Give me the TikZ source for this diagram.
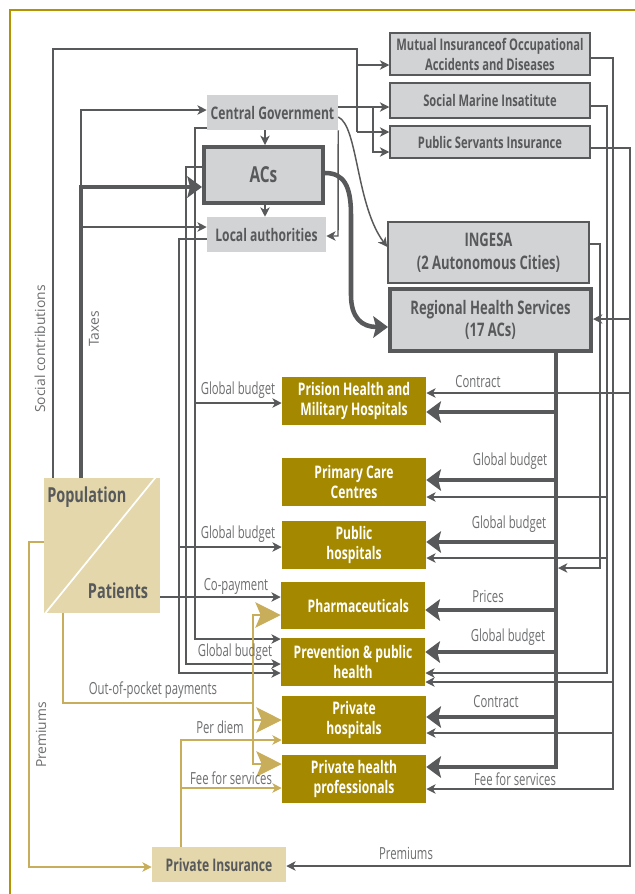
\documentclass[tikz,border=0pt]{standalone}
\usepackage{fontspec}
\setmainfont{Open Sans}
\newfontfamily\cfb[FakeStretch=0.70]{Open Sans}
\newfontfamily\cfl[FakeStretch=0.68]{Open Sans}
\usetikzlibrary{arrows.meta,calc}
\definecolor{dg}{HTML}{58595B}
\definecolor{boxg}{HTML}{D1D3D4}
\definecolor{goldb}{HTML}{A38800}
\definecolor{tanb}{HTML}{E3D7AB}
\definecolor{gl}{HTML}{C8AD5A}
\definecolor{framec}{HTML}{B39300}
\definecolor{lbl}{HTML}{6D6E70}
\tikzset{
  wh/.style 2 args={minimum width=#1*0.75pt, minimum height=#2*0.75pt},
  bf/.style 2 args={font=\cfb\bfseries\fontsize{#1}{#2}\selectfont},
  gbox/.style={draw=dg, line width=1.1pt, fill=boxg, text=dg, align=center, inner sep=0pt, bf={12}{15}},
  tbox/.style={gbox, line width=3pt},
  lbox/.style={fill=boxg, text=dg, align=center, inner sep=0pt, bf={13}{15}},
  goldbox/.style={fill=goldb, text=white, align=center, inner sep=0pt, bf={13}{15.5}, wh={144}{48}},
  tanbox/.style={fill=tanb, text=dg, align=center, inner sep=0pt, bf={13}{15}},
  ln/.style={draw=dg, line width=1.1pt},
  thk/.style={draw=dg, line width=3.4pt},
  gln/.style={draw=gl, line width=1.6pt},
  tarr/.style={-{Stealth[length=7pt,width=7pt,inset=2pt]}},
  karr/.style={-{Stealth[length=11pt,width=16pt,inset=2pt]}},
  garr/.style={-{Stealth[length=19pt,width=19pt,inset=4pt]}},
  lab/.style={font=\cfl\fontsize{12.5}{13}\selectfont, text=lbl, inner sep=0pt},
  rlab/.style={font=\fontsize{10.4}{12}\selectfont, text=lbl, inner sep=0pt, rotate=90},
}
\begin{document}
\begin{tikzpicture}[x=0.75pt,y=-0.75pt]
\useasboundingbox (0,0) rectangle (635,894);
\fill[white] (0,0) rectangle (635,894);
\draw[framec, line width=1.8pt] (10,894) -- (10,10) -- (635,10);

% ---------- nodes ----------
\node[gbox, wh={200}{42}] (mutual) at (490,54) {Mutual Insuranceof Occupational\\Accidents and Diseases};
\node[gbox, wh={200}{35}] (smi) at (490,100.5) {Social Marine Insatitute};
\node[gbox, wh={200}{32}] (psi) at (490,142) {Public Servants Insurance};
\node[lbox, wh={131}{35}] (cg) at (272.5,112.5) {Central Government};
\node[tbox, wh={119}{56}, bf={16.5}{18}] (acs) at (263.5,175) {ACs};
\node[lbox, wh={119}{35}] (la) at (266.5,234.5) {Local authorities};
\node[gbox, wh={201}{61}, bf={14}{17}] (ingesa) at (488.5,252.5) {INGESA\\(2 Autonomous Cities)};
\node[tbox, wh={201}{62}, bf={14}{17}] (rhs) at (490.5,320) {Regional Health Services\\(17 ACs)};

\node[goldbox] (prision) at (354,401) {Prision Health and\\Military Hospitals};
\node[goldbox] (pcc) at (354,482) {Primary Care\\Centres};
\node[goldbox] (pubh) at (354,545) {Public\\hospitals};
\node[goldbox, wh={144}{47}] (pharm) at (353,605.5) {\hspace*{8pt}Pharmaceuticals};
\node[goldbox] (prev) at (353,662) {Prevention \& public\\health};
\node[goldbox] (ph) at (354,720) {Private\\hospitals};
\node[goldbox] (php) at (354,779) {Private health\\professionals};

\node[tanbox, wh={134}{35}] (pi) at (219,864.5) {Private Insurance};
\node[fill=tanb, wh={116}{135}, inner sep=0pt] (pop) at (102,545.5) {};
\draw[white, line width=1.3pt] ($(pop.north east)+(-5,0)$) -- ($(pop.south west)+(1.5,0)$);
\node[text=dg, bf={15.5}{16}, anchor=west, inner sep=0pt] (poplbl) at (47,497) {Population};
\node[text=dg, bf={15.5}{16}, inner sep=0pt] (patlbl) at (118,591) {Patients};

% ---------- top connectors ----------
% social contributions
\draw[ln] (pop.north -| 53,0) -- (53,49) -- (357,49) -- (357,132);
\coordinate (sc1) at (357,65);
\coordinate (sc2) at (357,132);
\draw[ln, tarr] (sc1) -- (mutual.west |- sc1);
\draw[ln, tarr] (sc2) -- (psi.west |- sc2);
% central government outputs
\draw[ln, tarr] (cg.east |- 0,107) -- (smi.west |- 0,107);
\coordinate (cgb) at (373,107);
\draw[ln, tarr] (cgb) -- (373,152) -- (psi.west |- 0,152);
\draw[ln, tarr] (cg.east |- 0,117) .. controls (358,126) and (356,205) .. (ingesa.west |- 0,247);
\draw[ln, tarr] (cg.south -| 265,0) -- (acs.north -| 265,0);
\draw[ln, tarr] (acs.south -| 265,0) -- (la.north -| 265,0);
\draw[ln, tarr] (cg.south east) -- (338,236) -- (la.east |- 0,236);
% taxes
\draw[thk, karr] (pop.north -| 81,0) -- (81,187) -- (acs.west |- 0,187);
\draw[ln, tarr] (81,187) -- (81,110) -- (cg.west |- 0,110);
\coordinate (tx1) at (81,227);
\draw[ln, tarr] (tx1) -- (la.west |- tx1);
% ACs -> RHS
\draw[thk, karr] (acs.east |- 0,173) .. controls (344,173) and (351,186) .. (351,215) -- (351,295) .. controls (351,318) and (362,327) .. (rhs.west |- 0,327);

% ---------- left budget lines ----------
\draw[ln, tarr] (cg.west |- 0,128) -- (195,128) -- (195,639) -- (prev.west |- 0,639);
\coordinate (lb1) at (195,403);
\draw[ln, tarr] (lb1) -- (prision.west |- lb1);
\draw[ln, tarr] (acs.west |- 0,167) -- (186,167) -- (186,664) -- (prev.west |- 0,664);
\draw[ln, tarr] (la.west |- 0,239) -- (179,239) -- (179,673) -- (prev.west |- 0,673);
\coordinate (lb2) at (179,547);
\draw[ln, tarr] (lb2) -- (pubh.west |- lb2);
% co-payment
\draw[ln, tarr] (pop.east |- 0,597) -- (pharm.west |- 0,597);

% ---------- gold connectors ----------
\draw[gln] (pop.south -| 63,0) -- (63,703) -- (253,703);
\draw[gln, garr] (253,703) -- (253,615) -- (pharm.west |- 0,615);
\draw[gln, garr] (253,703) -- (253,764) -- (php.west |- 0,764);
\coordinate (gj) at (253,720);
\draw[gln, garr] (gj) -- (ph.west |- gj);
\draw[gln, line width=1.3pt, tarr] (pop.west |- 0,542) -- (29,542) -- (29,867) -- (pi.west |- 0,867);
\draw[gln, line width=1.3pt, tarr] (pi.north -| 181,0) -- (181,740) -- (ph.west |- 0,740);
\coordinate (pj) at (181,788);
\draw[gln, line width=1.3pt, tarr] (pj) -- (php.west |- pj);

% ---------- right side ----------
\draw[ln, tarr] (mutual.east |- 0,58) -- (613,58) -- (613,789) -- (php.east |- 0,789);
\draw[ln, tarr] (613,682) -- (prev.east |- 0,682);
\draw[ln, tarr] (613,733) -- (ph.east |- 0,733);
\draw[ln, tarr] (smi.east |- 0,106) -- (607,106) -- (607,673) -- (prev.east |- 0,673);
\draw[ln, tarr] (607,497) -- (pcc.east |- 0,497);
\draw[ln, tarr] (607,558) -- (pubh.east |- 0,558);
\draw[ln, tarr] (psi.east |- 0,148) -- (630,148) -- (630,866) -- (pi.east |- 0,866);
\draw[ln, tarr] (630,319) -- (rhs.east |- 0,319);
\draw[ln, tarr] (630,393) -- (prision.east |- 0,393);
\coordinate (trj) at (558,568);
\draw[ln, tarr] (ingesa.east |- 0,244) -- (600,244) -- (600,568) -- (trj);
% trunk
\draw[thk, karr] (rhs.south -| 556,0) -- (556,767) -- (php.east |- 0,767);
\foreach \yy/\nn in {412/prision, 480/pcc, 542/pubh, 610/pharm, 652/prev, 717/ph}
  \draw[thk, karr] (556,\yy) -- (\nn.east |- 0,\yy);

% ---------- labels ----------
\node[lab] (l1) at (478,382) {Contract};
\node[lab] (l2) at (510,461) {Global budget};
\node[lab] (l3) at (509,524) {Global budget};
\node[lab] (l4) at (488,596) {Prices};
\node[lab] (l5) at (508,637) {Global budget};
\node[lab] (l6) at (496,702) {Contract};
\node[lab] (l7) at (515,779) {Fee for services};
\node[lab] (l8) at (406,853) {Premiums};
\node[lab] (l9) at (238,390) {Global budget};
\node[lab] (l10) at (238,534) {Global budget};
\node[lab] (l11) at (236,586) {Co-payment};
\node[lab] (l12) at (235,652) {Global budget};
\node[lab] (l13) at (153,690) {Out-of-pocket payments};
\node[lab] (l14) at (220,727) {Per diem};
\node[lab] (l15) at (231,778) {Fee for services};
\node[rlab] (r1) at (40,349) {Social contributions};
\node[rlab] (r2) at (94,329) {Taxes};
\node[rlab] (r3) at (41,735) {Premiums};
\end{tikzpicture}
\end{document}
